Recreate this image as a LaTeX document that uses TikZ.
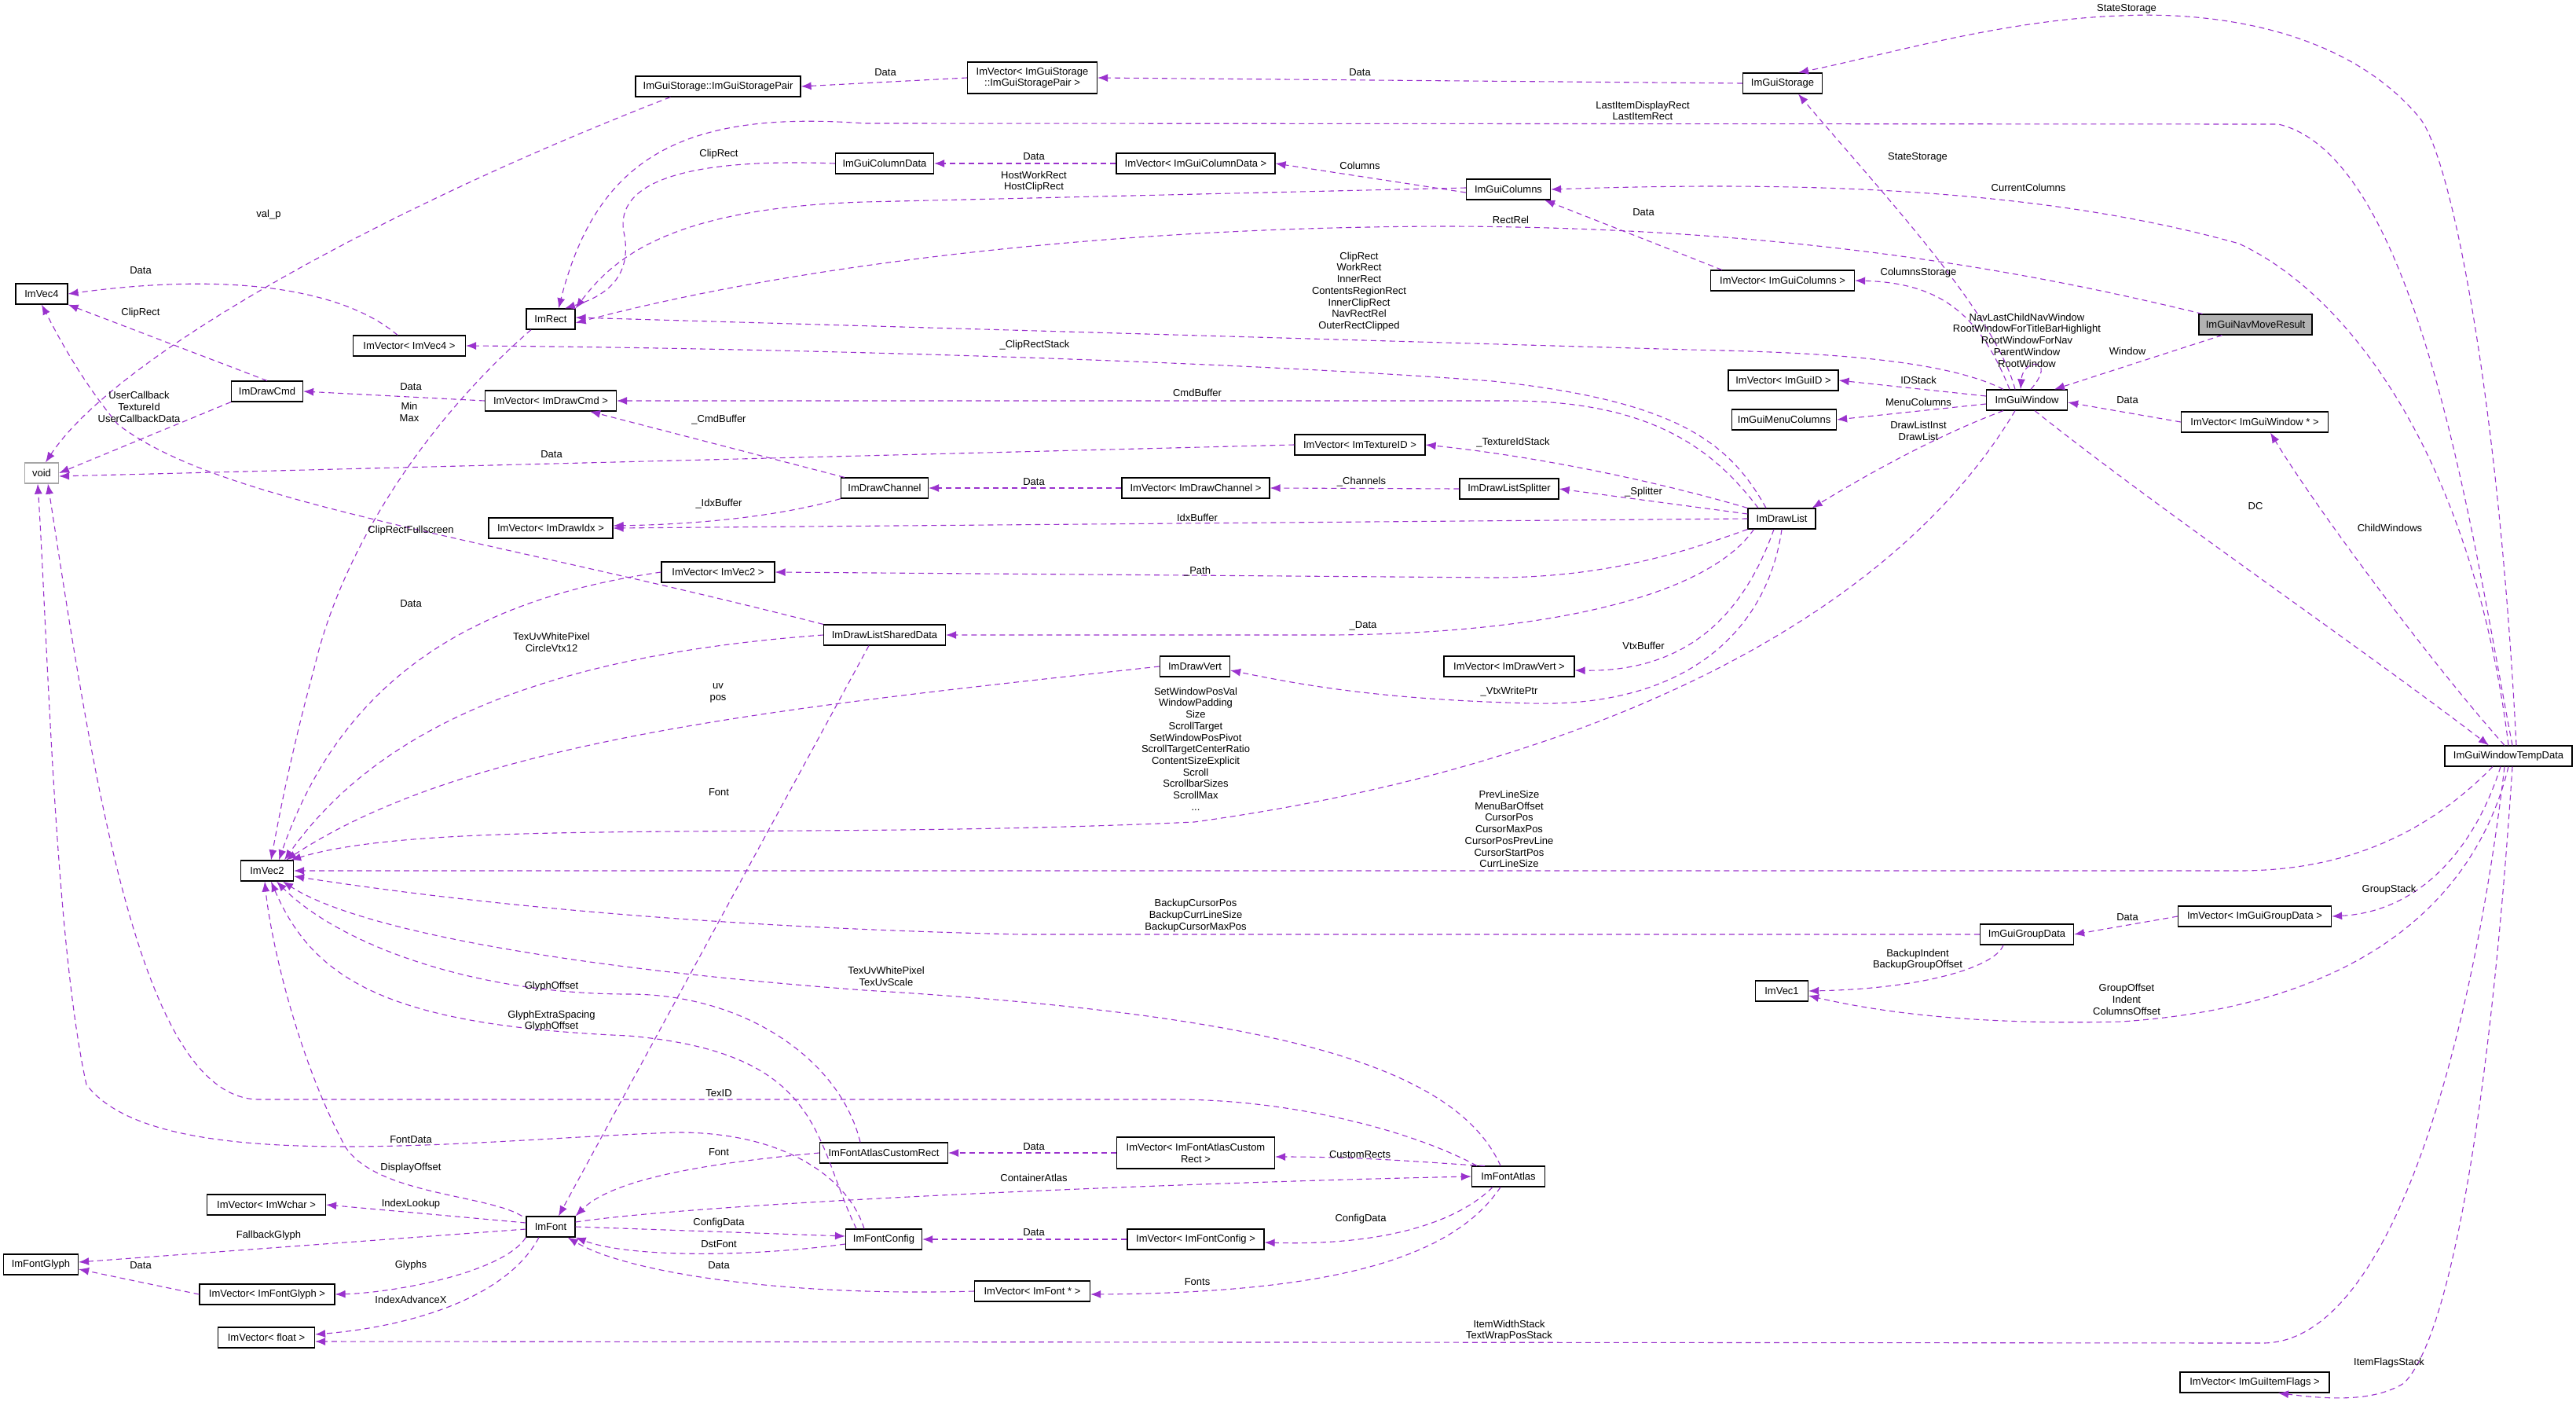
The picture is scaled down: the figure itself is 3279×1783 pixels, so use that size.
\documentclass[tikz,border=0pt]{standalone}
\usepackage{fontspec}
\setmainfont{Liberation Sans}
\usetikzlibrary{arrows.meta}
\definecolor{ecol}{HTML}{9A32CD}
\newcommand\dgfont{\fontsize{13}{14.7}\selectfont}
\tikzset{
 box/.style={draw=black,line width=1.2pt,fill=white,minimum height=26pt,inner sep=2pt,font=\dgfont,align=center},
 box2/.style={box,minimum height=40pt},
 lbl/.style={font=\dgfont,align=center,inner sep=0pt},
 edge/.style={draw=ecol,line width=1.1pt,dash pattern=on 7pt off 5pt,-{Latex[length=13pt,width=10pt]}}
}
\begin{document}
\begin{tikzpicture}[x=1pt,y=-1pt]
\fill[white] (0,0) rectangle (3279,1783);
\useasboundingbox (0,0) rectangle (3279,1783);
% nodes
\node[box,minimum width=210] (sp) at (914,110) {ImGuiStorage::ImGuiStoragePair};
\node[box2,minimum width=165] (vsp) at (1314,99) {ImVector\textless{} ImGuiStorage\\::ImGuiStoragePair \textgreater};
\node[box,minimum width=101] (stor) at (2269,106) {ImGuiStorage};
\node[box,minimum width=66] (v4) at (53,374) {ImVec4};
\node[box,minimum width=62] (rect) at (701,406) {ImRect};
\node[box,minimum width=143] (vv4) at (521,440) {ImVector\textless{} ImVec4 \textgreater};
\node[box,minimum width=91] (cmd) at (340,498) {ImDrawCmd};
\node[box,minimum width=167] (vcmd) at (701,510) {ImVector\textless{} ImDrawCmd \textgreater};
\node[box,draw=black!35,minimum width=43] (void) at (53,602) {void};
\node[box,minimum width=158] (vidx) at (701,672) {ImVector\textless{} ImDrawIdx \textgreater};
\node[box,minimum width=144] (vvec2) at (914,728) {ImVector\textless{} ImVec2 \textgreater};
\node[box,minimum width=155] (shared) at (1126,808) {ImDrawListSharedData};
\node[box,minimum width=125] (coldata) at (1126,208) {ImGuiColumnData};
\node[box,minimum width=111] (chan) at (1126,621) {ImDrawChannel};
\node[box,minimum width=202] (vcoldata) at (1522,208) {ImVector\textless{} ImGuiColumnData \textgreater};
\node[box,minimum width=107] (cols) at (1920,241) {ImGuiColumns};
\node[box,minimum width=166] (vtex) at (1731,566) {ImVector\textless{} ImTextureID \textgreater};
\node[box,minimum width=188] (vchan) at (1522,621) {ImVector\textless{} ImDrawChannel \textgreater};
\node[box,minimum width=126] (splitter) at (1921,622) {ImDrawListSplitter};
\node[box,minimum width=89] (vert) at (1521,848) {ImDrawVert};
\node[box,minimum width=166] (vvert) at (1921,848) {ImVector\textless{} ImDrawVert \textgreater};
\node[box,minimum width=183] (vcols) at (2269,357) {ImVector\textless{} ImGuiColumns \textgreater};
\node[box,fill=black!30,minimum width=144] (nav) at (2871,413) {ImGuiNavMoveResult};
\node[box,minimum width=140] (vid) at (2270,484) {ImVector\textless{} ImGuiID \textgreater};
\node[box,minimum width=103] (win) at (2580,509) {ImGuiWindow};
\node[box,minimum width=133] (menu) at (2271,534) {ImGuiMenuColumns};
\node[box,minimum width=187] (vwin) at (2870,537) {ImVector\textless{} ImGuiWindow * \textgreater};
\node[box,minimum width=86] (dl) at (2268,660) {ImDrawList};
\node[box,minimum width=162] (temp) at (3193,962) {ImGuiWindowTempData};
\node[box,minimum width=195] (vgroup) at (2870,1166) {ImVector\textless{} ImGuiGroupData \textgreater};
\node[box,minimum width=119] (group) at (2580,1189) {ImGuiGroupData};
\node[box,minimum width=67] (vec1) at (2268,1261) {ImVec1};
\node[box,minimum width=190] (vflags) at (2870,1759) {ImVector\textless{} ImGuiItemFlags \textgreater};
\node[box,minimum width=67] (vec2) at (340,1108) {ImVec2};
\node[box,minimum width=151] (vwchar) at (339,1533) {ImVector\textless{} ImWchar \textgreater};
\node[box,minimum width=62] (font) at (701,1561) {ImFont};
\node[box,minimum width=95] (glyph) at (52,1609) {ImFontGlyph};
\node[box,minimum width=172] (vglyph) at (340,1647) {ImVector\textless{} ImFontGlyph \textgreater};
\node[box,minimum width=123] (vfloat) at (339,1702) {ImVector\textless{} float \textgreater};
\node[box,minimum width=163] (customrect) at (1125,1467) {ImFontAtlasCustomRect};
\node[box,minimum width=97] (fconfig) at (1125,1577) {ImFontConfig};
\node[box2,minimum width=201] (vcustom) at (1522,1467) {ImVector\textless{} ImFontAtlasCustom\\Rect \textgreater};
\node[box,minimum width=93] (atlas) at (1920,1497) {ImFontAtlas};
\node[box,minimum width=174] (vfconfig) at (1522,1577) {ImVector\textless{} ImFontConfig \textgreater};
\node[box,minimum width=147] (vfont) at (1314,1643) {ImVector\textless{} ImFont * \textgreater};
% edges
\begin{scope}[on background layer/.style={}]
\draw[edge] ([xshift=45]sp.south west) .. controls (500,260) and (150,450) .. ([xshift=5]void.north);
\draw[edge] (vsp.west) -- (sp.east);
\draw[edge] (stor.west) -- (vsp.east);
\draw[edge] ([xshift=10]temp.north) .. controls (3180,500) and (3120,200) .. (3080,150) .. controls (2980,30) and (2800,15) .. (2700,20) .. controls (2550,25) and (2400,70) .. ([xshift=20]stor.north);
\draw[edge] ([xshift=-15]win.north) .. controls (2540,400) and (2400,250) .. ([xshift=20]stor.south);
\draw[edge] ([xshift=5]temp.north) .. controls (3150,700) and (3080,200) .. (2900,158) -- (1100,157) .. controls (870,140) and (760,200) .. ([xshift=10]rect.north);
\draw[edge] (coldata.west) .. controls (850,200) and (780,240) .. (795,300) .. controls (805,360) and (760,380) .. ([xshift=18]rect.north);
\draw[edge] (vcoldata.west) -- (coldata.east);
\draw[edge] ([yshift=-4]cols.west) -- (vcoldata.east);
\draw[edge] ([yshift=2]cols.west) -- (1100,257) .. controls (850,265) and (780,330) .. (rect.north east);
\draw[edge] (temp.north) .. controls (3150,600) and (3000,380) .. (2850,310) .. controls (2600,240) and (2300,230) .. (cols.east);
\draw[edge] ([xshift=15]vcols.north west) -- ([xshift=-8]cols.south east);
\draw[edge] ([xshift=5]nav.north west) .. controls (2600,350) and (2300,290) .. (1850,288) .. controls (1400,288) and (1000,340) .. ([yshift=-5]rect.east);
\draw[edge] ([xshift=-30]win.north) .. controls (2470,455) and (2300,448) .. (2150,445) -- ([yshift=2]rect.east);
\draw[edge] ([xshift=-22]win.north) .. controls (2520,400) and (2470,360) .. (vcols.east);
\draw[edge] ([xshift=5]win.north) .. controls (2620,455) and (2575,455) .. ([xshift=-8]win.north);
\draw[edge] ([xshift=30]nav.south west) -- ([xshift=35]win.north);
\draw[edge] (vwin.west) -- ([yshift=-3]win.east);
\draw[edge] ([xshift=-5]temp.north) .. controls (3100,850) and (2950,650) .. ([xshift=20]vwin.south);
\draw[edge] ([xshift=10]win.south) .. controls (2750,650) and (3000,820) .. ([xshift=-25]temp.north);
\draw[edge] ([yshift=5]win.west) -- (vid.east);
\draw[edge] ([yshift=-5]win.west) -- (menu.east);
\draw[edge] ([xshift=-30]win.south) .. controls (2450,560) and (2350,620) .. ([xshift=-5]dl.north east);
\draw[edge] ([xshift=-15]win.south) .. controls (2400,800) and (2000,980) .. (1520,1046) .. controls (1000,1070) and (550,1040) .. ([xshift=-4]vec2.north east);
\draw[edge] ([xshift=-20]dl.north) .. controls (2200,560) and (2130,510) .. (1900,485) .. controls (1500,455) and (900,442) .. (vv4.east);
\draw[edge] ([xshift=-30]dl.north) .. controls (2180,570) and (2100,510) .. (1920,510) -- (vcmd.east);
\draw[edge] (dl.north west) .. controls (2100,610) and (1950,580) .. (vtex.east);
\draw[edge] ([yshift=6]dl.west) -- (splitter.east);
\draw[edge] (dl.west) -- (vidx.east);
\draw[edge] (dl.south west) .. controls (2150,700) and (2050,735) .. (1900,735) -- (vvec2.east);
\draw[edge] ([xshift=8]dl.south west) .. controls (2180,750) and (2000,805) .. (1700,808) -- (shared.east);
\draw[edge] ([xshift=-10]dl.south) .. controls (2220,780) and (2150,855) .. ([yshift=-5]vvert.east);
\draw[edge] (dl.south) .. controls (2250,800) and (2150,900) .. (1950,895) .. controls (1750,890) and (1650,870) .. ([yshift=-5]vert.east);
\draw[edge] ([xshift=5]chan.north west) -- ([xshift=50]vcmd.south);
\draw[edge] (chan.south west) .. controls (1000,655) and (900,667) .. ([yshift=3]vidx.east);
\draw[edge] (vchan.west) -- (chan.east);
\draw[edge] (splitter.west) -- (vchan.east);
\draw[edge] (vcmd.west) -- (cmd.east);
\draw[edge] (cmd.north) -- (v4.south east);
\draw[edge] (cmd.south west) -- (void.east);
\draw[edge] ([xshift=-15]vv4.north) .. controls (440,370) and (300,345) .. (v4.east);
\draw[edge] ([xshift=-25]rect.south) .. controls (560,520) and (440,680) .. (400,850) .. controls (370,960) and (355,1040) .. ([xshift=5]vec2.north);
\draw[edge] (vtex.west) -- ([yshift=-4]void.east);
\draw[edge] (shared.north west) .. controls (600,680) and (280,640) .. (150,540) .. controls (100,480) and (70,420) .. (v4.south);
\draw[edge] (vvec2.west) .. controls (620,760) and (440,850) .. ([xshift=15]vec2.north);
\draw[edge] (shared.west) .. controls (750,830) and (500,900) .. ([xshift=22]vec2.north);
\draw[edge] (vert.west) .. controls (1000,900) and (600,940) .. ([xshift=-10]vec2.north east);
\draw[edge] ([xshift=-20]shared.south) -- ([xshift=10]font.north);
\draw[edge] ([xshift=-20]temp.south) .. controls (3100,1050) and (3000,1108) .. (2850,1108) -- (vec2.east);
\draw[edge] (group.west) -- (1300,1189) .. controls (900,1180) and (600,1150) .. ([yshift=-7]vec2.east);
\draw[edge] (vgroup.west) -- (group.east);
\draw[edge] ([xshift=-10]temp.south) .. controls (3150,1080) and (3080,1160) .. (vgroup.east);
\draw[edge] ([xshift=-30]group.south) .. controls (2540,1230) and (2450,1258) .. (vec1.east);
\draw[edge] (temp.south) .. controls (3150,1150) and (3000,1280) .. (2700,1300) .. controls (2500,1305) and (2380,1285) .. ([yshift=-6]vec1.east);
\draw[edge] ([xshift=-5]temp.south) .. controls (3150,1300) and (3050,1709) .. (2880,1709) -- ([yshift=-5]vfloat.east);
\draw[edge] ([xshift=5]temp.south) .. controls (3170,1400) and (3120,1700) .. (3060,1760) .. controls (3020,1785) and (2960,1780) .. ([xshift=30]vflags.south);
\draw[edge] ([xshift=-10]atlas.north) .. controls (1850,1350) and (1600,1290) .. (1100,1260) .. controls (700,1230) and (450,1180) .. ([xshift=20]vec2.south);
\draw[edge] ([xshift=-30]customrect.north) .. controls (1070,1350) and (950,1265) .. (800,1265) .. controls (600,1265) and (430,1200) .. ([xshift=12]vec2.south);
\draw[edge] ([xshift=-35]fconfig.north) .. controls (1035,1450) and (1050,1340) .. (800,1318) .. controls (500,1305) and (400,1250) .. ([xshift=5]vec2.south);
\draw[edge] ([xshift=-40]atlas.north) .. controls (1800,1440) and (1650,1400) .. (1500,1399) -- (330,1399) .. controls (180,1399) and (120,1000) .. ([xshift=8]void.south);
\draw[edge] ([xshift=-25]fconfig.north) .. controls (1080,1500) and (1000,1440) .. (860,1441) .. controls (600,1450) and (200,1500) .. (110,1380) .. controls (70,1200) and (60,800) .. ([xshift=-5]void.south);
\draw[edge] (customrect.west) .. controls (900,1480) and (780,1500) .. (font.north east);
\draw[edge] ([xshift=-5]font.north west) .. controls (620,1520) and (480,1520) .. (440,1460) .. controls (380,1350) and (345,1200) .. ([xshift=-3]vec2.south);
\draw[edge] ([yshift=5]font.west) -- (vwchar.east);
\draw[edge] ([yshift=-3]font.west) -- ([yshift=3]glyph.east);
\draw[edge] (vglyph.west) -- ([yshift=-6]glyph.east);
\draw[edge] (font.south west) .. controls (640,1620) and (500,1645) .. (vglyph.east);
\draw[edge] ([xshift=-15]font.south) .. controls (640,1660) and (500,1690) .. ([yshift=4]vfloat.east);
\draw[edge] (font.east) -- ([yshift=4]fconfig.west);
\draw[edge] ([yshift=-6]fconfig.west) .. controls (950,1600) and (800,1600) .. (font.south east);
\draw[edge] ([yshift=6]font.east) .. controls (900,1530) and (1500,1505) .. (atlas.west);
\draw[edge] (vcustom.west) -- (customrect.east);
\draw[edge] ([xshift=-30]atlas.north) .. controls (1850,1482) and (1750,1472) .. ([yshift=-5]vcustom.east);
\draw[edge] (vfconfig.west) -- (fconfig.east);
\draw[edge] ([xshift=-20]atlas.south) .. controls (1850,1560) and (1750,1585) .. ([yshift=-4]vfconfig.east);
\draw[edge] (vfont.west) .. controls (1000,1650) and (800,1620) .. ([xshift=-10]font.south east);
\draw[edge] ([xshift=-10]atlas.south) .. controls (1850,1600) and (1700,1645) .. ([yshift=-4]vfont.east);
\end{scope}
% labels
\node[lbl] (l1) at (342,273) {val\_p};
\node[lbl] (l2) at (1127,92) {Data};
\node[lbl] (l3) at (1731,92) {Data};
\node[lbl] (l4) at (2707,11) {StateStorage};
\node[lbl] (l5) at (2441,200) {StateStorage};
\node[lbl] (l6) at (2091,141) {LastItemDisplayRect\\LastItemRect};
\node[lbl] (l7) at (915,196) {ClipRect};
\node[lbl] (l8) at (1316,199) {Data};
\node[lbl] (l9) at (1731,211) {Columns};
\node[lbl] (l10) at (1316,231) {HostWorkRect\\HostClipRect};
\node[lbl] (l11) at (2582,239) {CurrentColumns};
\node[lbl] (l12) at (2092,270) {Data};
\node[lbl] (l13) at (1923,280) {RectRel};
\node[lbl] (l14) at (1730,371) {ClipRect\\WorkRect\\InnerRect\\ContentsRegionRect\\InnerClipRect\\NavRectRel\\OuterRectClipped};
\node[lbl] (l15) at (2442,347) {ColumnsStorage};
\node[lbl] (l16) at (2580,433) {NavLastChildNavWindow\\RootWindowForTitleBarHighlight\\RootWindowForNav\\ParentWindow\\RootWindow};
\node[lbl] (l17) at (2708,447) {Window};
\node[lbl] (l18) at (2708,509) {Data};
\node[lbl] (l19) at (3042,672) {ChildWindows};
\node[lbl] (l20) at (2871,644) {DC};
\node[lbl] (l21) at (2442,484) {IDStack};
\node[lbl] (l22) at (2442,512) {MenuColumns};
\node[lbl] (l23) at (2442,548) {DrawListInst\\DrawList};
\node[lbl] (l24) at (1522,953) {SetWindowPosVal\\WindowPadding\\Size\\ScrollTarget\\SetWindowPosPivot\\ScrollTargetCenterRatio\\ContentSizeExplicit\\Scroll\\ScrollbarSizes\\ScrollMax\\...};
\node[lbl] (l25) at (1317,439) {\_ClipRectStack};
\node[lbl] (l26) at (1524,500) {CmdBuffer};
\node[lbl] (l27) at (1926,563) {\_TextureIdStack};
\node[lbl] (l28) at (2092,626) {\_Splitter};
\node[lbl] (l29) at (1524,659) {IdxBuffer};
\node[lbl] (l30) at (1524,727) {\_Path};
\node[lbl] (l31) at (1735,796) {\_Data};
\node[lbl] (l32) at (2092,822) {VtxBuffer};
\node[lbl] (l33) at (1921,880) {\_VtxWritePtr};
\node[lbl] (l34) at (915,534) {\_CmdBuffer};
\node[lbl] (l35) at (915,641) {\_IdxBuffer};
\node[lbl] (l36) at (1316,613) {Data};
\node[lbl] (l37) at (1733,613) {\_Channels};
\node[lbl] (l38) at (523,492) {Data};
\node[lbl] (l39) at (179,398) {ClipRect};
\node[lbl] (l40) at (177,518) {UserCallback\\TextureId\\UserCallbackData};
\node[lbl] (l41) at (179,344) {Data};
\node[lbl] (l42) at (521,524) {Min\\Max};
\node[lbl] (l43) at (702,578) {Data};
\node[lbl] (l44) at (523,675) {ClipRectFullscreen};
\node[lbl] (l45) at (523,768) {Data};
\node[lbl] (l46) at (702,817) {TexUvWhitePixel\\CircleVtx12};
\node[lbl] (l47) at (914,882) {uv\\pos};
\node[lbl] (l48) at (915,1008) {Font};
\node[lbl] (l49) at (1921,1055) {PrevLineSize\\MenuBarOffset\\CursorPos\\CursorMaxPos\\CursorPosPrevLine\\CursorStartPos\\CurrLineSize};
\node[lbl] (l50) at (1522,1165) {BackupCursorPos\\BackupCurrLineSize\\BackupCursorMaxPos};
\node[lbl] (l51) at (2708,1167) {Data};
\node[lbl] (l52) at (3041,1132) {GroupStack};
\node[lbl] (l53) at (2441,1221) {BackupIndent\\BackupGroupOffset};
\node[lbl] (l54) at (2707,1272) {GroupOffset\\Indent\\ColumnsOffset};
\node[lbl] (l55) at (1921,1693) {ItemWidthStack\\TextWrapPosStack};
\node[lbl] (l56) at (3041,1734) {ItemFlagsStack};
\node[lbl] (l57) at (1128,1242) {TexUvWhitePixel\\TexUvScale};
\node[lbl] (l58) at (702,1255) {GlyphOffset};
\node[lbl] (l59) at (702,1299) {GlyphExtraSpacing\\GlyphOffset};
\node[lbl] (l60) at (915,1391) {TexID};
\node[lbl] (l61) at (523,1450) {FontData};
\node[lbl] (l62) at (915,1466) {Font};
\node[lbl] (l63) at (523,1486) {DisplayOffset};
\node[lbl] (l64) at (523,1532) {IndexLookup};
\node[lbl] (l65) at (342,1572) {FallbackGlyph};
\node[lbl] (l66) at (179,1610) {Data};
\node[lbl] (l67) at (523,1610) {Glyphs};
\node[lbl] (l68) at (523,1654) {IndexAdvanceX};
\node[lbl] (l69) at (915,1556) {ConfigData};
\node[lbl] (l70) at (915,1583) {DstFont};
\node[lbl] (l71) at (1316,1499) {ContainerAtlas};
\node[lbl] (l72) at (1316,1459) {Data};
\node[lbl] (l73) at (1731,1469) {CustomRects};
\node[lbl] (l74) at (1316,1568) {Data};
\node[lbl] (l75) at (1732,1551) {ConfigData};
\node[lbl] (l76) at (915,1610) {Data};
\node[lbl] (l77) at (1524,1631) {Fonts};
\end{tikzpicture}
\end{document}
